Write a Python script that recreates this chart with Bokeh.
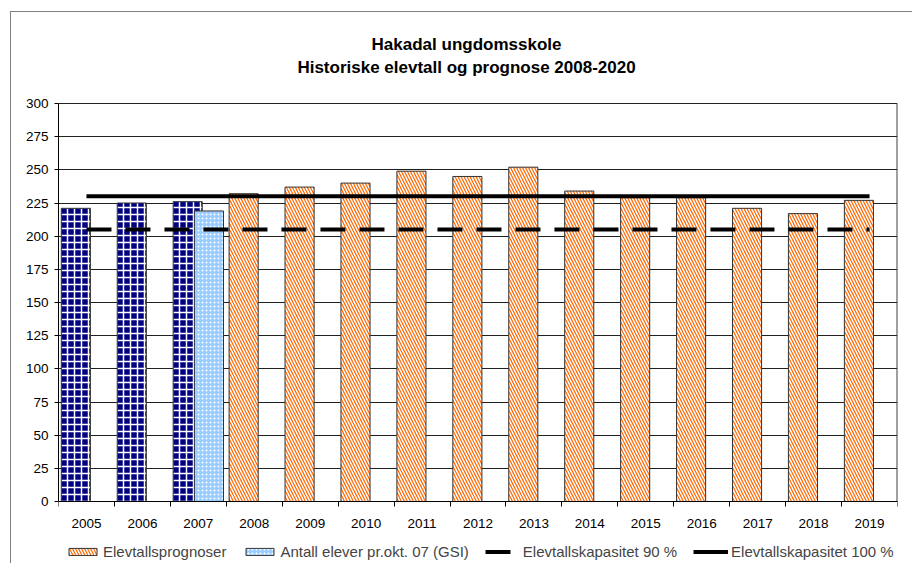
from bokeh.plotting import figure
from bokeh.models import FixedTicker, Legend, LegendItem, Range1d, ColumnDataSource, Label, LinearAxis
from bokeh.embed import file_html
from bokeh.resources import INLINE

# ---- data ----
years = [2005, 2006, 2007, 2008, 2009, 2010, 2011, 2012, 2013, 2014, 2015, 2016, 2017, 2018, 2019]
historic = [221, 225, 226, None, None, None, None, None, None, None, None, None, None, None, None]
gsi = [None, None, 219, None, None, None, None, None, None, None, None, None, None, None, None]
prognosis = [None, None, None, 232, 237, 240, 249, 245, 252, 234, 229, 229, 221, 217, 227]
cap90 = [205] * len(years)
cap100 = [230] * len(years)
y_ticks = [0, 25, 50, 75, 100, 125, 150, 175, 200, 225, 250, 275, 300]
title1 = "Hakadal ungdomsskole"
title2 = "Historiske elevtall og prognose 2008-2020"
lbl_prog = "Elevtallsprognoser"
lbl_gsi = "Antall elever pr.okt. 07 (GSI)"
lbl_90 = "Elevtallskapasitet 90 %"
lbl_100 = "Elevtallskapasitet 100 %"

FONT = "Liberation Sans"
n = len(years)
idx = list(range(n))
YMAX = y_ticks[-1]


def sub(vals, off):
    xs, ys = [], []
    for i, v in zip(idx, vals):
        if v is not None:
            xs.append(i + off)
            ys.append(v)
    return ColumnDataSource(dict(x=xs, top=ys))


# frame spans the full canvas height; value axis occupies 103..501 px
H, W = 563, 912
top_px, bot_px = 103, 501
k = (bot_px - top_px) / YMAX
p = figure(width=W, height=H, x_range=Range1d(0, n),
           y_range=Range1d(-(H - bot_px) / k, YMAX + top_px / k),
           output_backend="svg", toolbar_location=None,
           min_border_left=58, min_border_right=15, min_border_top=0, min_border_bottom=0)
p.background_fill_alpha = 0
p.border_fill_alpha = 0
p.outline_line_color = None
p.styles = {
    "background": "linear-gradient(#808080,#808080) 10px 11px / 1px calc(100% - 11px) no-repeat, "
                  "linear-gradient(#808080,#808080) 10px 11px / calc(100% - 10px) 1px no-repeat, #ffffff"
}

# grid
p.xgrid.visible = False
p.ygrid.ticker = FixedTicker(ticks=y_ticks)
p.ygrid.grid_line_color = "#202020"
p.ygrid.grid_line_width = 1

# right border of plot area
p.segment(x0=[n], y0=[0], x1=[n], y1=[YMAX], line_color="#404040", line_width=2)

# bars
BW = 0.52
r_hist = p.vbar(x="x", top="top", width=BW, source=sub(historic, 0.31),
                fill_color="#000080", line_color="#333333", line_width=1,
                hatch_pattern="+", hatch_color="white", hatch_weight=1.5, hatch_scale=7)
r_gsi = p.vbar(x="x", top="top", width=BW, source=sub(gsi, 0.69),
               fill_color="#99CCFF", line_color="#333333", line_width=1,
               hatch_pattern=".", hatch_color="white", hatch_weight=1, hatch_scale=4)
r_prog = p.vbar(x="x", top="top", width=BW, source=sub(prognosis, 0.31),
                fill_color="#FF6600", line_color="#333333", line_width=1,
                hatch_pattern="\\", hatch_color="white", hatch_weight=1.5, hatch_scale=6)

centers = [i + 0.5 for i in idx]
r90 = p.line(centers, cap90, line_color="black", line_width=4, line_dash="25 14")
r100 = p.line(centers, cap100, line_color="black", line_width=4)

# axes
ya = p.yaxis[0]
ya.bounds = (0, YMAX)
ya.ticker = FixedTicker(ticks=y_ticks)
ya.axis_line_color = "black"
ya.major_tick_out = 4
ya.major_tick_in = 0
ya.minor_tick_line_color = None
ya.major_label_standoff = 6
ya.major_label_text_font = FONT
ya.major_label_text_font_size = "13.5px"
ya.major_label_text_color = "black"

p.xaxis.visible = False
xa = LinearAxis(fixed_location=0)
xa.ticker = FixedTicker(ticks=centers, minor_ticks=list(range(n + 1)))
xa.major_label_overrides = {c: str(y) for c, y in zip(centers, years)}
xa.axis_line_color = "black"
xa.major_tick_out = 0
xa.major_tick_in = 0
xa.minor_tick_out = 5
xa.minor_tick_in = 0
xa.minor_tick_line_color = "black"
xa.major_label_standoff = 12
xa.major_label_text_font = FONT
xa.major_label_text_font_size = "13.5px"
xa.major_label_text_color = "black"
p.add_layout(xa, "below")

# titles
for txt, yy in ((title1, YMAX + 59 / k), (title2, YMAX + 36 / k)):
    p.add_layout(Label(x=7.295, y=yy, text=txt, text_align="center", text_baseline="middle",
                       text_font=FONT, text_font_style="bold", text_font_size="17px",
                       text_color="black"))

legend = Legend(items=[LegendItem(label=lbl_prog, renderers=[r_prog]),
                       LegendItem(label=lbl_gsi, renderers=[r_gsi]),
                       LegendItem(label=lbl_90, renderers=[r90]),
                       LegendItem(label=lbl_100, renderers=[r100])],
                orientation="horizontal", location=(7, 3), padding=0, margin=0,
                spacing=16, glyph_width=35, glyph_height=9, label_standoff=3, label_height=14,
                label_text_font=FONT, label_text_font_size="15px",
                border_line_color=None, background_fill_alpha=0)
p.add_layout(legend)

open("out.html", "w").write(file_html(p, INLINE))
